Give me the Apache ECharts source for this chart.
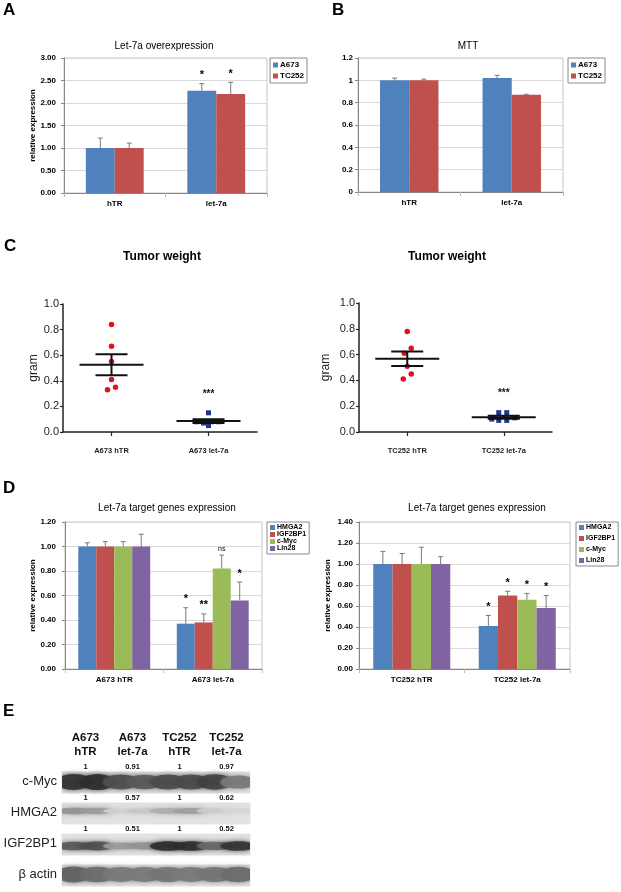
<!DOCTYPE html>
<html><head><meta charset="utf-8">
<script src="https://cdn.jsdelivr.net/npm/echarts/dist/echarts.min.js"></script>
<style>html,body{margin:0;padding:0;background:#fff}#c{width:621px;height:892px}</style>
</head><body><div id="c"></div>
<script>
// ---------- DATA ----------
// Panel A
const aCategories = ['hTR', 'let-7a'];
const aA673 = [1.00, 2.27];
const aA673ErrTop = [1.22, 2.43];
const aTC252 = [1.00, 2.20];
const aTC252ErrTop = [1.11, 2.46];
const aA673Sig = ['', '*'];
const aTC252Sig = ['', '*'];
// Panel B
const bCategories = ['hTR', 'let-7a'];
const bA673 = [1.00, 1.02];
const bA673ErrTop = [1.02, 1.045];
const bTC252 = [1.00, 0.87];
const bTC252ErrTop = [1.01, 0.875];
// Panel C
const cLeftCategories = ['A673 hTR', 'A673 let-7a'];
const cLeftHTR = [0.84, 0.67, 0.55, 0.41, 0.33, 0.35];
const cLeftLet7a = [0.15, 0.08, 0.07, 0.08, 0.08, 0.05];
const cRightCategories = ['TC252 hTR', 'TC252 let-7a'];
const cRightHTR = [0.78, 0.65, 0.61, 0.51, 0.45, 0.41];
const cRightLet7a = [0.10, 0.15, 0.09, 0.15, 0.09, 0.11];
const cSig = ['', '***'];
// Panel D
const dGenes = ['HMGA2', 'IGF2BP1', 'c-Myc', 'Lin28'];
const dLeftCategories = ['A673 hTR', 'A673 let-7a'];
const dLeftValues = [[1.00, 0.37], [1.00, 0.38], [1.00, 0.82], [1.00, 0.56]];
const dLeftErrTop = [[1.03, 0.50], [1.04, 0.45], [1.04, 0.93], [1.10, 0.71]];
const dLeftSig = [['', '*'], ['', '**'], ['', 'ns'], ['', '*']];
const dRightCategories = ['TC252 hTR', 'TC252 let-7a'];
const dRightValues = [[1.00, 0.41], [1.00, 0.70], [1.00, 0.66], [1.00, 0.58]];
const dRightErrTop = [[1.12, 0.51], [1.10, 0.74], [1.16, 0.72], [1.07, 0.70]];
const dRightSig = [['', '*'], ['', '*'], ['', '*'], ['', '*']];
// Panel E (western blot)
const eLanes = ['A673\nhTR', 'A673\nlet-7a', 'TC252\nhTR', 'TC252\nlet-7a'];
const eProteins = ['c-Myc', 'HMGA2', 'IGF2BP1', 'β actin'];
const eQuantCMyc = [1, 0.91, 1, 0.97];
const eQuantHMGA2 = [1, 0.57, 1, 0.62];
const eQuantIGF2BP1 = [1, 0.51, 1, 0.52];
// band darkness per half lane (0 = none, 1 = black)
const eBandCMyc = [0.92, 0.95, 0.78, 0.72, 0.80, 0.80, 0.85, 0.55];
const eBandHMGA2 = [0.42, 0.38, 0.10, 0.14, 0.28, 0.36, 0.12, 0.07];
const eBandIGF2BP1 = [0.72, 0.78, 0.38, 0.42, 0.95, 0.95, 0.65, 0.92];
const eBandActin = [0.68, 0.62, 0.55, 0.55, 0.58, 0.55, 0.58, 0.62];

// ---------- STYLE ----------
const FONT = '"Liberation Sans", Arial, Helvetica, sans-serif';
const COL = { blue: '#4F81BD', red: '#C0504D', green: '#9BBB59', purple: '#8064A2' };
const geneColors = [COL.blue, COL.red, COL.green, COL.purple];
const cJitterLeftHTR = [0, 0, 0, 0, -4, 4];
const cJitterLeftLet = [0, -12, -5, 3, 10, 0];
const cJitterRightHTR = [0, 4, -3, 0, 4, -4];
const cJitterRightLet = [-12, -5, -5, 3, 3, 11];

function excelY(gi, max, interval, fmt, margin, name, nameGap) {
  return {
    type: 'value', gridIndex: gi, min: 0, max: max, interval: interval,
    axisLine: { show: true, lineStyle: { color: '#868686' } },
    axisTick: { show: true, length: 3, lineStyle: { color: '#868686' } },
    axisLabel: { fontSize: 8, fontWeight: 'bold', color: '#000', margin: margin, formatter: fmt, fontFamily: FONT },
    splitLine: { show: true, lineStyle: { color: '#d9d9d9' } },
    name: name || '', nameLocation: 'middle', nameGap: nameGap || 0, nameRotate: 90,
    nameTextStyle: { fontSize: 8, fontWeight: 'bold', color: '#000', fontFamily: FONT }
  };
}
function excelX(gi, cats) {
  return {
    type: 'category', gridIndex: gi, data: cats,
    axisLine: { show: true, lineStyle: { color: '#868686' } },
    axisTick: { show: true, alignWithLabel: false, length: 4, lineStyle: { color: '#bbb' } },
    axisLabel: { fontSize: 8, fontWeight: 'bold', color: '#000', margin: 7, fontFamily: FONT }
  };
}
function prismY(gi, nameGap) {
  return {
    type: 'value', gridIndex: gi, min: 0, max: 1, interval: 0.2,
    axisLine: { show: true, lineStyle: { color: '#222', width: 1.5 } },
    axisTick: { show: true, length: 3, lineStyle: { color: '#222', width: 1.2 } },
    axisLabel: { fontSize: 11, color: '#222', margin: 4, formatter: v => v.toFixed(1), fontFamily: FONT },
    splitLine: { show: false },
    name: 'gram', nameLocation: 'middle', nameGap: nameGap, nameRotate: 90,
    nameTextStyle: { fontSize: 12, color: '#222', fontFamily: FONT }
  };
}
function prismX(gi, cats) {
  return {
    type: 'category', gridIndex: gi, data: cats,
    axisLine: { show: true, lineStyle: { color: '#222', width: 1.5 } },
    axisTick: { show: true, alignWithLabel: true, length: 4, lineStyle: { color: '#222', width: 1.2 } },
    axisLabel: { fontSize: 7.5, fontWeight: 'bold', color: '#222', margin: 15, fontFamily: FONT }
  };
}
function barSeries(name, gi, data, color, gap) {
  return { type: 'bar', name: name, xAxisIndex: gi, yAxisIndex: gi, data: data,
    barGap: '0%', barCategoryGap: gap, itemStyle: { color: color }, z: 2 };
}
function errSeries(gi, idx, n, gapFrac, vals, tops, sigs, sigSizes) {
  return {
    type: 'custom', xAxisIndex: gi, yAxisIndex: gi, z: 5, silent: true,
    data: vals.map((v, i) => [i, v, tops[i]]),
    renderItem: function (params, api) {
      const cat = api.value(0);
      const band = api.size([1, 0])[0];
      const total = band * (1 - gapFrac);
      const w = total / n;
      const base = api.coord([cat, api.value(1)]);
      const cx = base[0] - total / 2 + w * (idx + 0.5);
      const yTop = api.coord([cat, api.value(2)])[1];
      const st = { stroke: '#7a7a7a', lineWidth: 1 };
      const ch = [
        { type: 'line', shape: { x1: cx, y1: base[1], x2: cx, y2: yTop }, style: st },
        { type: 'line', shape: { x1: cx - 2.5, y1: yTop, x2: cx + 2.5, y2: yTop }, style: st }
      ];
      const s = sigs ? sigs[params.dataIndex] : '';
      if (s) {
        const isNs = s === 'ns';
        ch.push({ type: 'text', style: { text: s, x: cx, y: yTop - 3, align: 'center', verticalAlign: 'bottom',
          font: (isNs ? 'normal ' + sigSizes[1] : 'bold ' + sigSizes[0]) + 'px ' + FONT, fill: '#000' } });
      }
      return { type: 'group', children: ch };
    }
  };
}
function scatterGroup(gi, groupIdx, values, jitter, symbol, color, size) {
  return {
    type: 'scatter', xAxisIndex: gi, yAxisIndex: gi, z: 3, silent: true,
    data: values.map((v, i) => ({ value: [groupIdx, v], symbolOffset: [jitter[i], 0] })),
    symbol: symbol, symbolSize: size, itemStyle: { color: color, opacity: 1 }
  };
}
function groupData(groups) {
  return groups.map((g, i) => {
    const m = g.reduce((a, b) => a + b, 0) / g.length;
    const sd = Math.sqrt(g.reduce((a, b) => a + (b - m) * (b - m), 0) / (g.length - 1));
    return [i, m, sd / Math.sqrt(g.length), Math.max.apply(null, g)];
  });
}
function meanSemSeries(gi, groups, sigs) {
  return {
    type: 'custom', xAxisIndex: gi, yAxisIndex: gi, z: 6, silent: true,
    data: groupData(groups),
    renderItem: function (params, api) {
      const c = api.value(0), m = api.value(1), s = api.value(2), mx = api.value(3);
      const pm = api.coord([c, m]), pu = api.coord([c, m + s]), pl = api.coord([c, m - s]);
      const st = { stroke: '#111', lineWidth: 2 };
      const ch = [
        { type: 'line', shape: { x1: pm[0] - 32, y1: pm[1], x2: pm[0] + 32, y2: pm[1] }, style: st },
        { type: 'line', shape: { x1: pu[0] - 16, y1: pu[1], x2: pu[0] + 16, y2: pu[1] }, style: st },
        { type: 'line', shape: { x1: pl[0] - 16, y1: pl[1], x2: pl[0] + 16, y2: pl[1] }, style: st },
        { type: 'line', shape: { x1: pu[0], y1: pu[1], x2: pl[0], y2: pl[1] }, style: st }
      ];
      const sg = sigs[params.dataIndex];
      if (sg) {
        const py = api.coord([c, mx])[1];
        ch.push({ type: 'text', style: { text: sg, x: pm[0], y: py - 14, align: 'center', verticalAlign: 'bottom',
          font: 'bold 10px ' + FONT, fill: '#111' } });
      }
      return { type: 'group', children: ch };
    }
  };
}

// blot
const bandRows = [eBandCMyc, eBandHMGA2, eBandIGF2BP1, eBandActin];
const bandBaseH = [15, 8, 9, 17];
const bandDy = [0.5, -1.5, 2.5, 0];
const blotData = [];
bandRows.forEach((row, r) => row.forEach((d, s) => blotData.push([Math.floor(s / 2), r, d, s % 2])));
const quantRows = [eQuantCMyc, eQuantHMGA2, eQuantIGF2BP1];
const quantData = [];
quantRows.forEach((row, r) => row.forEach((q, l) => quantData.push([l, r, q])));

// ---------- OPTION ----------
const excelGrid = { show: true, borderColor: '#c6c6c6', borderWidth: 1, backgroundColor: 'transparent' };
const option = {
  animation: false,
  textStyle: { fontFamily: FONT },
  title: [
    { text: 'A', left: 3, top: 2 }, { text: 'B', left: 332, top: 2 },
    { text: 'C', left: 4, top: 238 }, { text: 'D', left: 3, top: 480 }, { text: 'E', left: 3, top: 703 }
  ].map(t => Object.assign(t, { padding: 0, textStyle: { fontSize: 17, fontWeight: 'bold', color: '#000', fontFamily: FONT } }))
  .concat([
    { text: 'Let-7a overexpression', left: 164, top: 41, fs: 10, fw: 'normal' },
    { text: 'MTT', left: 468, top: 41, fs: 10, fw: 'normal' },
    { text: 'Tumor weight', left: 162, top: 251, fs: 12, fw: 'bold' },
    { text: 'Tumor weight', left: 447, top: 251, fs: 12, fw: 'bold' },
    { text: 'Let-7a target genes expression', left: 167, top: 503, fs: 10, fw: 'normal' },
    { text: 'Let-7a target genes expression', left: 477, top: 503, fs: 10, fw: 'normal' }
  ].map(t => ({ text: t.text, left: t.left, top: t.top, textAlign: 'center', padding: 0,
    textStyle: { fontSize: t.fs, fontWeight: t.fw, color: '#000', fontFamily: FONT } }))),
  legend: [
    { names: ['A673', 'TC252'], left: 270, top: 58, gap: 1, lh: 10, fs: 8 },
    { names: ['A673', 'TC252'], left: 568, top: 58, gap: 1, lh: 10, fs: 8 },
    { names: dGenes, left: 267, top: 522, gap: 0, lh: 7, fs: 7 },
    { names: dGenes, left: 576, top: 522, gap: 4, lh: 7, fs: 7 }
  ].map(l => ({
    data: l.names.map(n => ({ name: n, icon: 'rect' })), left: l.left, top: l.top, orient: 'vertical',
    itemWidth: 5, itemHeight: 5, itemGap: l.gap, padding: [2, 3, 2, 3], borderColor: '#8a8a8a', borderWidth: 1,
    selectedMode: false, textStyle: { fontSize: l.fs, lineHeight: l.lh, fontWeight: 'bold', color: '#000', fontFamily: FONT, padding: [0, 0, 0, -3] }
  })),
  grid: [
    Object.assign({ left: 64, top: 58, width: 203, height: 135 }, excelGrid),
    Object.assign({ left: 358, top: 58, width: 205, height: 134 }, excelGrid),
    { left: 63, top: 304, width: 194, height: 128 },
    { left: 359, top: 303, width: 193, height: 129 },
    Object.assign({ left: 65, top: 522, width: 197, height: 147 }, excelGrid),
    Object.assign({ left: 359, top: 522, width: 211, height: 147 }, excelGrid),
    { left: 62, top: 766, width: 188, height: 124 }
  ],
  xAxis: [
    excelX(0, aCategories), excelX(1, bCategories),
    prismX(2, cLeftCategories), prismX(3, cRightCategories),
    excelX(4, dLeftCategories), excelX(5, dRightCategories),
    { type: 'category', gridIndex: 6, data: eLanes, position: 'top', axisLine: { show: false }, axisTick: { show: false },
      axisLabel: { fontSize: 11.5, fontWeight: 'bold', color: '#111', lineHeight: 14, margin: 7, fontFamily: FONT } }
  ],
  yAxis: [
    excelY(0, 3, 0.5, v => v.toFixed(2), 8, 'relative expression', 26),
    excelY(1, 1.2, 0.2, v => String(Math.round(v * 10) / 10), 5),
    prismY(2, 17), prismY(3, 27),
    excelY(4, 1.2, 0.2, v => v.toFixed(2), 9, 'relative expression', 28),
    excelY(5, 1.4, 0.2, v => v.toFixed(2), 6, 'relative expression', 27),
    { type: 'category', gridIndex: 6, data: eProteins, inverse: true, axisLine: { show: false }, axisTick: { show: false },
      axisLabel: { fontSize: 13, color: '#222', margin: 5, fontFamily: FONT } }
  ],
  series: [
    // A
    barSeries('A673', 0, aA673, COL.blue, '43%'),
    barSeries('TC252', 0, aTC252, COL.red, '43%'),
    errSeries(0, 0, 2, 0.43, aA673, aA673ErrTop, aA673Sig, [11, 8]),
    errSeries(0, 1, 2, 0.43, aTC252, aTC252ErrTop, aTC252Sig, [11, 8]),
    // B
    barSeries('A673', 1, bA673, COL.blue, '43%'),
    barSeries('TC252', 1, bTC252, COL.red, '43%'),
    errSeries(1, 0, 2, 0.43, bA673, bA673ErrTop, null, [11, 8]),
    errSeries(1, 1, 2, 0.43, bTC252, bTC252ErrTop, null, [11, 8]),
    // C
    scatterGroup(2, 0, cLeftHTR, cJitterLeftHTR, 'circle', '#E0101E', 5.5),
    scatterGroup(2, 1, cLeftLet7a, cJitterLeftLet, 'rect', '#1F3390', 5),
    meanSemSeries(2, [cLeftHTR, cLeftLet7a], cSig),
    scatterGroup(3, 0, cRightHTR, cJitterRightHTR, 'circle', '#E0101E', 5.5),
    scatterGroup(3, 1, cRightLet7a, cJitterRightLet, 'rect', '#1F3390', 5),
    meanSemSeries(3, [cRightHTR, cRightLet7a], cSig)
  ]
  .concat(dGenes.map((g, i) => barSeries(g, 4, dLeftValues[i], geneColors[i], '27%')))
  .concat(dGenes.map((g, i) => errSeries(4, i, 4, 0.27, dLeftValues[i], dLeftErrTop[i], dLeftSig[i], [11, 7])))
  .concat(dGenes.map((g, i) => barSeries(g, 5, dRightValues[i], geneColors[i], '27%')))
  .concat(dGenes.map((g, i) => errSeries(5, i, 4, 0.27, dRightValues[i], dRightErrTop[i], dRightSig[i], [11, 7])))
  .concat([
    {
      // blot background strips
      type: 'custom', xAxisIndex: 6, yAxisIndex: 6, silent: true, z: 1, data: blotData,
      renderItem: function (params, api) {
        const lane = api.value(0), row = api.value(1), half = api.value(3);
        const c = api.coord([lane, row]);
        const w = api.size([1, 0])[0];
        const x0 = c[0] - w / 2 + half * w / 2;
        return { type: 'rect', shape: { x: x0 - 0.5, y: c[1] - 10, width: w / 2 + 1, height: 22 }, style: { fill: '#e2e2e2' } };
      }
    },
    {
      // blot bands
      type: 'custom', xAxisIndex: 6, yAxisIndex: 6, silent: true, z: 2, clip: true, data: blotData,
      renderItem: function (params, api) {
        const lane = api.value(0), row = api.value(1), d = api.value(2), half = api.value(3);
        const c = api.coord([lane, row]);
        const w = api.size([1, 0])[0];
        const x0 = c[0] - w / 2 + half * w / 2;
        const g = Math.round(226 - d * 190);
        const col = 'rgba(' + g + ',' + g + ',' + g + ',0.9)';
        const h = bandBaseH[row] * (0.6 + 0.5 * d);
        const cy = c[1] + bandDy[row];
        return { type: 'ellipse', shape: { cx: x0 + w / 4, cy: cy, rx: w / 4 + 6, ry: h / 2 },
          style: { fill: col, shadowBlur: 5, shadowColor: col } };
      }
    },
    {
      type: 'custom', xAxisIndex: 6, yAxisIndex: 6, silent: true, z: 4, data: quantData,
      renderItem: function (params, api) {
        const c = api.coord([api.value(0), api.value(1)]);
        return { type: 'text', style: { text: String(api.value(2)), x: c[0], y: c[1] - 15, align: 'center', verticalAlign: 'middle',
          font: 'bold 7.5px ' + FONT, fill: '#111' } };
      }
    }
  ])
};
const chart = echarts.init(document.getElementById('c'), null, { renderer: 'canvas' });
chart.setOption(option);
</script></body></html>
